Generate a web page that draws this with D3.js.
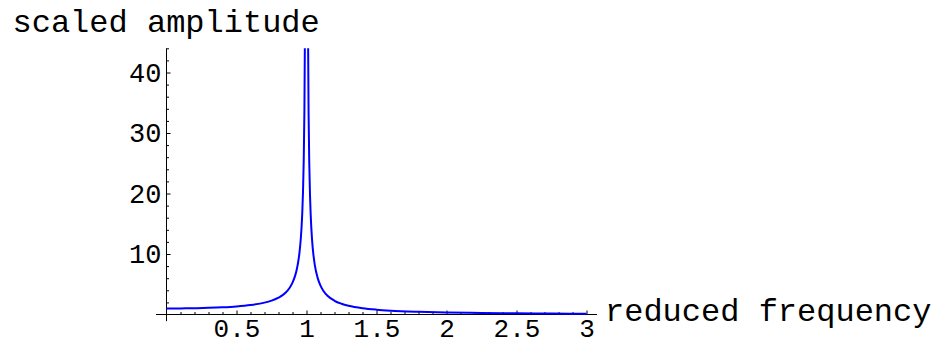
<!DOCTYPE html>
<html>
<head>
<meta charset="utf-8">
<script src="https://cdn.jsdelivr.net/npm/d3@7"></script>
<style>
  html, body { margin: 0; padding: 0; background: #fff; }
  svg text { font-family: "Liberation Mono", "Courier New", monospace; fill: #000; }
</style>
</head>
<body>
<div id="chart"></div>
<script>
// reduced frequency / scaled amplitude
const freqBelow = [0, 0.1, 0.2, 0.3, 0.4, 0.5, 0.6, 0.7, 0.75, 0.8, 0.85, 0.88, 0.9,
  0.92, 0.93, 0.94, 0.95, 0.96, 0.965, 0.97, 0.975, 0.98, 0.985, 0.99];
const ampBelow = [1.0, 1.01, 1.04, 1.1, 1.19, 1.33, 1.56, 1.96, 2.29, 2.78, 3.6, 4.43, 5.26,
  6.51, 7.4, 8.59, 10.26, 12.76, 14.54, 16.92, 20.25, 25.25, 33.58, 50.25];

const freqAbove = [1.01, 1.015, 1.02, 1.025, 1.03, 1.04, 1.05, 1.06, 1.08, 1.1, 1.12, 1.15,
  1.2, 1.25, 1.3, 1.4, 1.5, 1.6, 1.8, 2.0, 2.25, 2.5, 2.75, 3.0];
const ampAbove = [49.75, 33.08, 24.75, 19.75, 16.42, 12.25, 9.76, 8.09, 6.01, 4.76, 3.93, 3.1,
  2.27, 1.78, 1.45, 1.04, 0.8, 0.64, 0.45, 0.33, 0.246, 0.19, 0.152, 0.125];

const xMajorTicks = [0.5, 1, 1.5, 2, 2.5, 3];
const xTickLabels = ['0.5', '1', '1.5', '2', '2.5', '3'];
const yMajorTicks = [10, 20, 30, 40];
const yTickLabels = ['10', '20', '30', '40'];

const xTitle = 'reduced frequency';
const yTitle = 'scaled amplitude';

const width = 937;
const height = 341;

const x = d3.scaleLinear().domain([0, 3]).range([166.5, 586.5]);
const y = d3.scaleLinear().domain([0, 44]).range([314.5, 48.3]);

const svg = d3.select('#chart')
  .append('svg')
  .attr('width', width)
  .attr('height', height);

// minor ticks every 0.1 / 2 units
const xMinor = d3.range(1, 31).map(i => i / 10).filter(v => !xMajorTicks.includes(v));
const yMinor = d3.range(1, 23).map(i => i * 2).filter(v => !yMajorTicks.includes(v));

// axis lines, a little past the data range like Mathematica does
svg.append('line')
  .attr('x1', x(-0.075)).attr('x2', x(3.075))
  .attr('y1', y(0)).attr('y2', y(0))
  .attr('stroke', '#000').attr('stroke-width', 1);

svg.append('line')
  .attr('x1', x(0)).attr('x2', x(0))
  .attr('y1', y(-1.1)).attr('y2', y(44))
  .attr('stroke', '#000').attr('stroke-width', 1);

const xAxis = svg.append('g')
  .attr('transform', `translate(0,${y(0)})`)
  .call(d3.axisBottom(x)
    .tickValues(xMajorTicks)
    .tickFormat((d, i) => xTickLabels[i])
    .tickSizeInner(-4)
    .tickSizeOuter(0)
    .tickPadding(2));
xAxis.select('.domain').remove();
xAxis.selectAll('text')
  .attr('dy', '20.5px')
  .style('font-size', '26px')
  .style('font-family', '"Liberation Mono", monospace');

const xAxisMinor = svg.append('g')
  .attr('transform', `translate(0,${y(0)})`)
  .call(d3.axisBottom(x).tickValues(xMinor).tickFormat('').tickSizeInner(-2.5).tickSizeOuter(0));
xAxisMinor.select('.domain').remove();

const yAxis = svg.append('g')
  .attr('transform', `translate(${x(0)},0)`)
  .call(d3.axisLeft(y)
    .tickValues(yMajorTicks)
    .tickFormat((d, i) => yTickLabels[i])
    .tickSizeInner(-4)
    .tickSizeOuter(0)
    .tickPadding(5));
yAxis.select('.domain').remove();
yAxis.selectAll('text')
  .style('font-size', '27px')
  .style('font-family', '"Liberation Mono", monospace');

const yAxisMinor = svg.append('g')
  .attr('transform', `translate(${x(0)},0)`)
  .call(d3.axisLeft(y).tickValues(yMinor).tickFormat('').tickSizeInner(-2.5).tickSizeOuter(0));
yAxisMinor.select('.domain').remove();

// titles
svg.append('text')
  .attr('x', x(0) - 154)
  .attr('y', 32)
  .style('font-size', '32px')
  .text(yTitle);

svg.append('text')
  .attr('x', x(3.075) + 8)
  .attr('y', y(0) + 6)
  .style('font-size', '32px')
  .text(xTitle);

// curve, clipped at the top of the plot range
svg.append('clipPath')
  .attr('id', 'plot-clip')
  .append('rect')
  .attr('x', x(-0.1))
  .attr('y', y(44))
  .attr('width', x(3.1) - x(-0.1))
  .attr('height', y(-1) - y(44));

const line = d3.line()
  .x(d => x(d[0]))
  .y(d => y(d[1]))
  .curve(d3.curveMonotoneX);

const branches = [
  d3.zip(freqBelow, ampBelow),
  d3.zip(freqAbove, ampAbove),
];

svg.append('g')
  .attr('clip-path', 'url(#plot-clip)')
  .selectAll('path')
  .data(branches)
  .enter()
  .append('path')
  .attr('d', line)
  .attr('fill', 'none')
  .attr('stroke', '#0000ff')
  .attr('stroke-width', 2);
</script>
</body>
</html>
